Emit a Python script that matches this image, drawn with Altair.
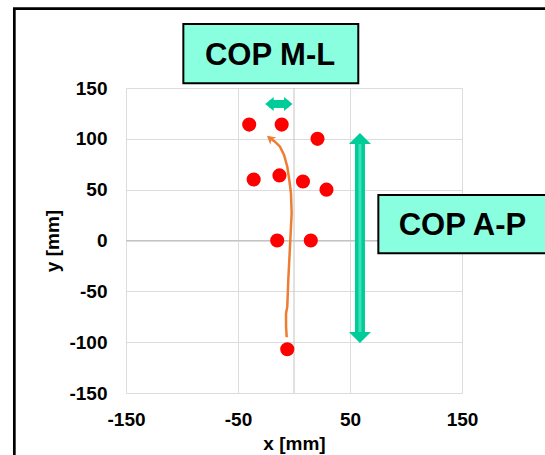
import altair as alt
import pandas as pd

# --- data ---
pts_x = [-40, -11, 21, -36, -13, 8, 29, -15, 15, -6]
pts_y = [114, 114, 100, 60, 64, 58, 50, 0, 0, -107]

path_x = [-6.5, -7.1, -7.1, -6.0, -5.1, -3.6, -2.1, -2.7, -4.2, -6.0, -8.9, -12.5, -17.0, -22.0]
path_y = [-95.2, -84.8, -71.6, -65.1, -38.9, -6.1, 26.8, 46.4, 59.5, 72.6, 84.1, 92.3, 97.2, 101.0]

x_ticks = [-150, -50, 50, 150]
y_ticks = [-150, -100, -50, 0, 50, 100, 150]

box_labels = ["COP M-L", "COP A-P"]
box_x = [-98.8, 75.3]
box_x2 = [57.4, 240]
box_y = [213, 44.8]
box_y2 = [154.6, -12.6]
label_x = [-21.4, 150.4]
label_y = [172.4, 5.2]

ap_x = [58.9]
ap_top = [100.3]
ap_bot = [-95.4]
ml_y = [134.3]
ml_left = [-21.9]
ml_right = [-5.1]

frame = pd.DataFrame({"x": [-249.7], "x2": [300], "y": [228], "y2": [-260]})

xs = alt.Scale(domain=[-150, 150], nice=False, zero=False)
ys = alt.Scale(domain=[-150, 150], nice=False, zero=False)
xaxis = alt.Axis(values=x_ticks, title="x [mm]", labelPadding=17, titlePadding=5,
                 labelFlush=False, labelExpr="'' + datum.value")
yaxis = alt.Axis(values=y_ticks, title="y [mm]", labelPadding=19, titlePadding=6,
                 labelFlush=False, labelExpr="'' + datum.value")
X = alt.X("x:Q", scale=xs, axis=xaxis)
Y = alt.Y("y:Q", scale=ys, axis=yaxis)

pts = pd.DataFrame({"x": pts_x, "y": pts_y})
path = pd.DataFrame({"x": path_x, "y": path_y, "o": list(range(len(path_x)))})
boxes = pd.DataFrame({"x": box_x, "x2": box_x2, "y": box_y, "y2": box_y2})
labels = pd.DataFrame({"t": box_labels, "x": label_x, "y": label_y})

teal = "#00CC99"

zero_v = alt.Chart(pd.DataFrame({"x": [0]})).mark_rule(color="#c4c4c4", strokeWidth=1).encode(x=X)
zero_h = alt.Chart(pd.DataFrame({"y": [0]})).mark_rule(color="#c4c4c4", strokeWidth=1).encode(y=Y)

frame_l = alt.Chart(frame).mark_rect(fillOpacity=0, stroke="black", strokeWidth=2.7).encode(
    x=X, x2="x2", y=Y, y2="y2")

box_l = alt.Chart(boxes).mark_rect(fill="#8AFFDF", stroke="black", strokeWidth=2).encode(
    x=X, x2="x2", y=Y, y2="y2")
text_l = alt.Chart(labels).mark_text(font="Liberation Sans", fontWeight="bold", fontSize=31,
                                     baseline="alphabetic", align="center", color="black").encode(
    x=X, y=Y, text="t:N")

ap_df = pd.DataFrame({"x": ap_x, "y": ap_top, "y2": ap_bot})
ap_shaft = alt.Chart(ap_df).mark_rule(color=teal, strokeWidth=10).encode(x=X, y=Y, y2="y2")
ap_stripe = alt.Chart(ap_df).mark_rule(color="#3FE0B5", strokeWidth=3).encode(x=X, y=Y, y2="y2")
ap_head_top = alt.Chart(pd.DataFrame({"x": ap_x, "y": ap_top})).mark_point(
    shape="M-1,0.5L0,-0.5L1,0.5Z", size=484, filled=True, fill=teal, opacity=1, strokeWidth=0).encode(x=X, y=Y)
ap_head_bot = alt.Chart(pd.DataFrame({"x": ap_x, "y": ap_bot})).mark_point(
    shape="M-1,-0.5L0,0.5L1,-0.5Z", size=484, filled=True, fill=teal, opacity=1, strokeWidth=0).encode(x=X, y=Y)

ml_df = pd.DataFrame({"x": ml_left, "x2": ml_right, "y": ml_y})
ml_shaft = alt.Chart(ml_df).mark_rule(color=teal, strokeWidth=8).encode(x=X, x2="x2", y=Y)
ml_head_l = alt.Chart(pd.DataFrame({"x": ml_left, "y": ml_y})).mark_point(
    shape="M-0.6,0L0.6,-1L0.6,1Z", size=196, filled=True, fill=teal, opacity=1, strokeWidth=0).encode(x=X, y=Y)
ml_head_r = alt.Chart(pd.DataFrame({"x": ml_right, "y": ml_y})).mark_point(
    shape="M0.6,0L-0.6,-1L-0.6,1Z", size=196, filled=True, fill=teal, opacity=1, strokeWidth=0).encode(x=X, y=Y)

line_l = alt.Chart(path).mark_line(color="#ED7D31", strokeWidth=2.5).encode(x=X, y=Y, order="o:Q")
tip = pd.DataFrame({"x": [path_x[-1]], "y": [path_y[-1]]})
head_l = alt.Chart(tip).mark_point(shape="M0,-0.6L0.9,1L0,0.5L-0.9,1Z", size=110, filled=True,
                                   fill="#ED7D31", opacity=1, strokeWidth=0, angle=310).encode(x=X, y=Y)

pts_l = alt.Chart(pts).mark_circle(size=200, color="#FF0000", opacity=1).encode(x=X, y=Y)

chart = alt.layer(
    zero_v, zero_h, frame_l, box_l, text_l,
    ap_shaft, ap_stripe, ap_head_top, ap_head_bot,
    ml_shaft, ml_head_l, ml_head_r,
    line_l, head_l, pts_l,
).properties(
    width=336, height=305,
    padding={"left": 126, "top": 88, "right": 83, "bottom": 62},
    autosize="none",
    background="white",
).configure_view(stroke=None).configure_axis(
    labelFont="Liberation Sans", labelFontWeight="bold", labelFontSize=19, labelColor="black",
    titleFont="Liberation Sans", titleFontWeight="bold", titleFontSize=19, titleColor="black",
    ticks=False, domain=False, grid=True, gridColor="#dcdcdc", gridWidth=1,
)

chart.save("out.html", embed_options={"renderer": "svg", "actions": False})
